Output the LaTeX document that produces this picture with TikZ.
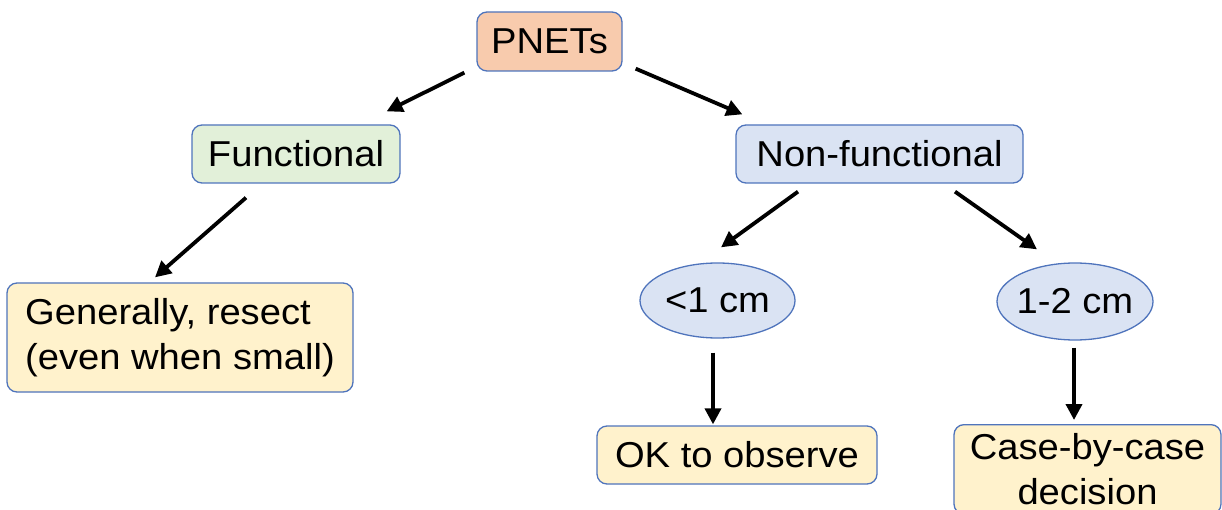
\documentclass[tikz,border=0pt]{standalone}
\usepackage{fontspec}
\setmainfont[FakeStretch=1.06]{Liberation Sans}
\usetikzlibrary{arrows.meta,calc,shapes.geometric}

\definecolor{edgeblue}{HTML}{4F74BC}
\definecolor{peach}{HTML}{F8CBAD}
\definecolor{paleGreen}{HTML}{E2F0D9}
\definecolor{paleBlue}{HTML}{DAE3F3}
\definecolor{paleYellow}{HTML}{FFF2CC}

\tikzset{
  box/.style={draw=edgeblue, line width=1.3pt, rounded corners=10pt,
    inner sep=0pt, font=\fontsize{36}{45}\selectfont},
  oval/.style={ellipse, draw=edgeblue, line width=1.3pt, fill=paleBlue,
    inner xsep=-7pt, inner ysep=0pt, font=\fontsize{36}{45}\selectfont},
  arr/.style={line width=3.8pt, draw=black,
    -{Triangle[length=16pt,width=16pt]}},
}

\begin{document}
\begin{tikzpicture}[x=1pt,y=-1pt]
  \useasboundingbox (0,0) rectangle (1222,510);
  \clip (0,0) rectangle (1222,510);

  % boxes
  \node[box, fill=peach, minimum width=145pt, minimum height=59pt]
    (pnets) at (549.5,41.5) {PNETs};
  \node[box, fill=paleGreen, minimum width=208pt, minimum height=58pt]
    (func) at (296,154) {Functional};
  \node[box, fill=paleBlue, minimum width=287pt, minimum height=58pt]
    (nonf) at (879.5,154) {Non-functional};
  \node[box, fill=paleYellow, minimum width=346pt, minimum height=109pt, align=left]
    (gen) at (180,337.5) {Generally, resect\\(even when small)};
  \node[oval, minimum width=155pt, minimum height=75pt]
    (small) at (717.5,300.5) {<1 cm};
  \node[oval, minimum width=156pt, minimum height=77pt]
    (mid) at (1075,301.5) {1-2 cm};
  \node[box, fill=paleYellow, minimum width=280pt, minimum height=58pt]
    (ok) at (737,455) {OK to observe};
  \node[box, fill=paleYellow, minimum width=267pt, inner ysep=9pt,
    align=center, anchor=north]
    (case) at (1087.5,424) {Case-by-case\\decision};

  % connectors
  \draw[arr] ($(pnets.south west)+(-12,1)$) -- ($(func.north east)+(-14,-13)$);
  \draw[arr] ($(pnets.south east)+(13,-3)$) -- ($(nonf.north west)+(7,-10)$);
  \draw[arr] ($(func.south)+(-50,14)$) -- ($(gen.north)+(-25,-5)$);
  \draw[arr] ($(nonf.south)+(-81.5,8)$) -- ($(small.north)+(3.5,-15)$);
  \draw[arr] ($(nonf.south)+(75.5,8)$) -- ($(mid.north)+(-38,-13)$);
  \draw[arr] ($(small.south)+(-4.5,14)$) -- ($(ok.north)+(-24,-1)$);
  \draw[arr] ($(mid.south)+(-1,7)$) -- ($(case.north)+(-13.5,-4)$);
\end{tikzpicture}
\end{document}
